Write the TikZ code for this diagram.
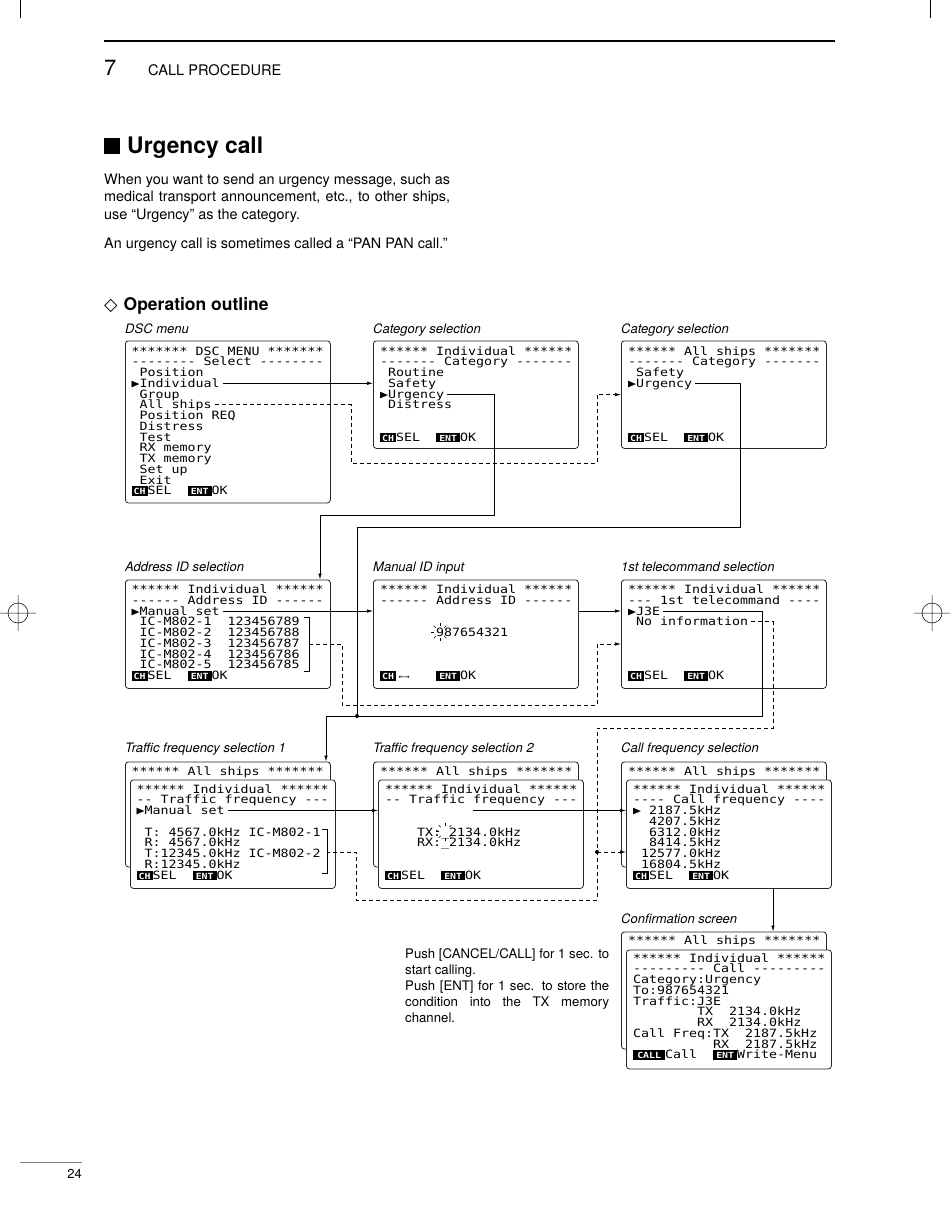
\documentclass[tikz,border=0pt]{standalone}
\usepackage{fontspec}
\setmainfont{TeX Gyre Heros}
\newfontfamily\lcdfont[Ligatures=TeXOff, FakeStretch=1.166]{DejaVu Sans Mono}
\newfontfamily\symfont{DejaVu Sans}
\usetikzlibrary{arrows.meta}

\newlength\lcdw
\setlength\lcdw{8pt}
% inverted key label on the LCD, #1 = width in characters
\newcommand\lcdkey[2]{{\setlength\fboxsep{0pt}\colorbox{black}{\makebox[#1\lcdw]{\rule[-1.2pt]{0pt}{9.6pt}\textcolor{white}{\fontsize{8.5}{9}\selectfont\bfseries #2}}}}}
% one node per LCD line: name, x, first baseline, lines
\newcommand\lcdscreen[4]{%
  \foreach \lcdtxt [count=\i from 0] in {#4}
    \node[lcdline] (#1-\i) at (#2,{#3+\i*10.75}) {\lcdtxt};
}
% blinking digit
\newcommand\blinkmark[1]{%
  \foreach \a in {45,90,...,315}
    \draw[line width=0.5pt] (#1)+(\a:6pt) -- +(\a:9pt);
}

\begin{document}
\begin{tikzpicture}[x=1pt,y=-1pt,
  screen/.style={draw=black!85, line width=0.8pt, rounded corners=3pt, fill=white,
    anchor=north west, inner sep=0pt, minimum width=205pt},
  lcdline/.style={anchor=base west, inner sep=0pt, text height=8pt, text depth=0pt,
    font={\lcdfont\fontsize{11.4}{10.75}\selectfont}},
  caption/.style={anchor=base west, inner sep=0pt, font={\fontsize{13}{13}\selectfont\itshape}},
  body/.style={anchor=base west, inner sep=0pt, font={\fontsize{14.4}{17.7}\selectfont}},
  push/.style={anchor=base west, inner sep=0pt, font={\fontsize{13.2}{16}\selectfont}},
  sline/.style={line width=0.7pt},
  dline/.style={sline, dash pattern=on 4pt off 3pt},
  conn/.style={sline, -{Latex[length=6pt,width=3.5pt]}},
  dconn/.style={conn, dash pattern=on 4pt off 3pt}]
\useasboundingbox (0,0) rectangle (950,1229);
\fill[white] (0,0) rectangle (950,1229);

% trim and registration marks
\draw[line width=0.5pt] (20,0) -- (20,18);
\draw[line width=0.5pt] (930,0) -- (930,18);
\draw[line width=0.5pt] (18,613) circle (10pt) (0,613) -- (36,613) (18,595) -- (18,631);
\draw[line width=0.5pt] (932,613) circle (10pt) (914,613) -- (950,613) (932,595) -- (932,631);

% page header
\draw[line width=1.4pt] (104,41) -- (835,41);
\node[body, font={\fontsize{22}{22}\selectfont}] (chapno) at (104,75) {7};
\node[body, font={\fontsize{14.6}{15}\selectfont}] (chapter) at (148,75) {CALL PROCEDURE};

\node[body, font={\fontsize{22.8}{23}\selectfont\bfseries}] (title) at (104,153.5) {\rule{16pt}{16pt}\hspace{7pt}Urgency call};
\node[body] (para1) at (104,184) {\makebox[346pt][s]{When you want to send an urgency message, such as}};
\node[body] (para2) at (104,201.7) {\makebox[346pt][s]{medical transport announcement, etc., to other ships,}};
\node[body] (para3) at (104,219.4) {use “Urgency” as the category.};
\node[body] (para4) at (104,248.3) {An urgency call is sometimes called a “PAN PAN call.”};
\node[body, font={\fontsize{17.5}{18}\selectfont\bfseries}] (outline) at (104,310) {{\symfont ◇}\hspace{6pt}Operation outline};

% captions
\node[caption] (cap-dsc) at (125,333) {DSC menu};
\node[caption] (cap-catind) at (373,333) {Category selection};
\node[caption] (cap-catall) at (621,333) {Category selection};
\node[caption] (cap-addr) at (125,571) {Address ID selection};
\node[caption] (cap-manid) at (373,571) {Manual ID input};
\node[caption] (cap-tele) at (621,571) {1st telecommand selection};
\node[caption] (cap-tf1) at (125,752) {Traffic frequency selection 1};
\node[caption] (cap-tf2) at (373,752) {Traffic frequency selection 2};
\node[caption] (cap-cf) at (621,752) {Call frequency selection};
\node[caption] (cap-cnf) at (621,923) {Confirmation screen};

% row 1
\node[screen, minimum height=162pt] (dsc) at (125,340.5) {};
\lcdscreen{dsc}{131.5}{355}{{*******~DSC~MENU~*******},{--------~Select~--------},
  {~Position},{▶Individual},{~Group},{~All~ships},{~Position~REQ},{~Distress},{~Test},
  {~RX~memory},{~TX~memory},{~Set~up},{~Exit},{\lcdkey{2}{CH}SEL~~\lcdkey{3}{ENT}OK}}
\node[screen, minimum height=107.5pt] (catind) at (373,340.5) {};
\lcdscreen{catind}{380}{355}{{******~Individual~******},{-------~Category~-------},
  {~Routine},{~Safety},{▶Urgency},{~Distress},{},{},{\lcdkey{2}{CH}SEL~~\lcdkey{3}{ENT}OK}}
\node[screen, minimum height=107.5pt] (catall) at (621,340.5) {};
\lcdscreen{catall}{628}{355}{{******~All~ships~*******},{-------~Category~-------},
  {~Safety},{▶Urgency},{},{},{},{},{\lcdkey{2}{CH}SEL~~\lcdkey{3}{ENT}OK}}

% row 2
\node[screen, minimum height=108.5pt] (addr) at (125,579.5) {};
\lcdscreen{addr}{131.5}{593.5}{{******~Individual~******},{------~Address~ID~------},
  {▶Manual~set},{~IC-M802-1~~123456789},{~IC-M802-2~~123456788},{~IC-M802-3~~123456787},
  {~IC-M802-4~~123456786},{~IC-M802-5~~123456785},{\lcdkey{2}{CH}SEL~~\lcdkey{3}{ENT}OK}}
\draw[sline] (304,617) -| (309,671) -- (304,671);
\node[screen, minimum height=108.5pt] (manid) at (373,579.5) {};
\lcdscreen{manid}{380}{593.5}{{******~Individual~******},{------~Address~ID~------},
  {},{},{~~~~~~~987654321},{},{},{},
  {\lcdkey{2}{CH}\makebox[2\lcdw]{\fontsize{8}{8}\selectfont ←→}~~~\lcdkey{3}{ENT}OK}}
\coordinate (blink1) at (440,632);
\blinkmark{blink1}
\node[screen, minimum height=108.5pt] (tele) at (621,579.5) {};
\lcdscreen{tele}{628}{593.5}{{******~Individual~******},{---~1st~telecommand~----},
  {▶J3E},{~No~information},{},{},{},{},{\lcdkey{2}{CH}SEL~~\lcdkey{3}{ENT}OK}}

% row 3
\node[screen, minimum height=105pt] (tf1back) at (125,761.5) {};
\lcdscreen{tf1back}{131.5}{775}{{******~All~ships~*******}}
\node[screen, minimum height=108.5pt] (tf1) at (130,779.5) {};
\lcdscreen{tf1}{136.5}{793}{{******~Individual~******},{--~Traffic~frequency~---},
  {▶Manual~set},{},{~T:~4567.0kHz~IC-M802-1},{~R:~4567.0kHz},{~T:12345.0kHz~IC-M802-2},
  {~R:12345.0kHz},{\lcdkey{2}{CH}SEL~~\lcdkey{3}{ENT}OK}}
\draw[sline] (322,829) -| (327,873) -- (322,873);
\node[screen, minimum height=105pt] (tf2back) at (373,761.5) {};
\lcdscreen{tf2back}{380}{775}{{******~All~ships~*******}}
\node[screen, minimum height=108.5pt] (tf2) at (378,779.5) {};
\lcdscreen{tf2}{385}{793}{{******~Individual~******},{--~Traffic~frequency~---},
  {},{},{~~~~TX:\_2134.0kHz},{~~~~RX:\_2134.0kHz},{},{},{\lcdkey{2}{CH}SEL~~\lcdkey{3}{ENT}OK}}
\coordinate (blink2) at (445,831.5);
\blinkmark{blink2}
\node[screen, minimum height=105pt] (cfback) at (621,761.5) {};
\lcdscreen{cfback}{628}{775}{{******~All~ships~*******}}
\node[screen, minimum height=108.5pt] (cf) at (626,779.5) {};
\lcdscreen{cf}{633}{793}{{******~Individual~******},{----~Call~frequency~----},
  {▶~2187.5kHz},{~~4207.5kHz},{~~6312.0kHz},{~~8414.5kHz},{~12577.0kHz},{~16804.5kHz},
  {\lcdkey{2}{CH}SEL~~\lcdkey{3}{ENT}OK}}

% confirmation
\node[screen, minimum height=117pt] (cnfback) at (621,931.5) {};
\lcdscreen{cnfback}{628}{944}{{******~All~ships~*******}}
\node[screen, minimum height=119pt] (cnf) at (626,949.5) {};
\lcdscreen{cnf}{633}{962}{{******~Individual~******},{---------~Call~---------},
  {Category:Urgency},{To:987654321},{Traffic:J3E},{~~~~~~~~TX~~2134.0kHz},
  {~~~~~~~~RX~~2134.0kHz},{Call~Freq:TX~~2187.5kHz},{~~~~~~~~~~RX~~2187.5kHz},
  {\lcdkey{4}{CALL}Call~~\lcdkey{3}{ENT}Write-Menu}}

\node[push] (push-1) at (405,958) {\makebox[204pt][s]{Push [CANCEL/CALL] for 1 sec. to}};
\node[push] (push-2) at (405,974) {start calling.};
\node[push] (push-3) at (405,990) {\makebox[204pt][s]{Push [ENT] for 1 sec. to store the}};
\node[push] (push-4) at (405,1006) {\makebox[204pt][s]{condition into the TX memory}};
\node[push] (push-5) at (405,1022) {channel.};

% connectors
\coordinate (k1) at (351,463);
\coordinate (k2) at (597,0);
\draw[conn] ([xshift=3pt]dsc-3.east) -- (dsc-3.east -| catind.west);
\draw[dconn] ([xshift=3pt]dsc-5.east) -| (k1) -| (k2 |- catall.west) -- (catall.west);

\coordinate (k3) at (494,515);
\coordinate (k4) at (320,0);
\draw[conn] ([xshift=3pt]catind-4.east) -| (k3) -| (k4 |- addr.north);

\coordinate (k5) at (740,527);
\coordinate (j1) at (357,716);
\draw[sline] ([xshift=3pt]catall-3.east) -| (k5) -| (j1);
\fill (j1) circle (2pt);

\draw[conn] ([xshift=3pt]addr-2.east) -- (addr-2.east -| manid.west);
\coordinate (br1) at (309,644);
\coordinate (k6) at (342,705);
\coordinate (k7) at (597,644);
\draw[dconn] (br1) -| (k6) -| (k7) -- (k7 -| tele.west);

\draw[conn] (manid.east |- tele-2.east) -- (tele.west |- tele-2.east);

\coordinate (k8) at (762,716);
\coordinate (k9) at (326,0);
\draw[conn] ([xshift=3pt]tele-2.east) -| (k8) -| (k9 |- tf1back.north);

\coordinate (k10) at (773,728);
\coordinate (k11) at (597,900);
\coordinate (k12) at (356,852);
\coordinate (br2) at (327,852);
\coordinate (j2) at (597,852);
\draw[dline] ([xshift=3pt]tele-3.east) -| (k10) -| (k11) -| (k12) -- (br2);
\fill (j2) circle (2pt);
\draw[dconn] (j2) -- (j2 -| cf.west);

\draw[conn] ([xshift=3pt]tf1-2.east) -- (tf1-2.east -| tf2.west);
\coordinate (k13) at (473,0);
\draw[conn] (k13 |- tf2-2.west) -- (cf.west |- tf2-2.west);
\coordinate (k14) at (773,0);
\draw[conn] (k14 |- cf.south) -- (k14 |- cnfback.north);

% footer
\draw[gray, line width=1pt] (20,1162) -- (82,1162);
\node[anchor=base east, inner sep=0pt, font={\fontsize{13}{13}\selectfont}] (pageno) at (82,1178) {24};
\end{tikzpicture}
\end{document}
